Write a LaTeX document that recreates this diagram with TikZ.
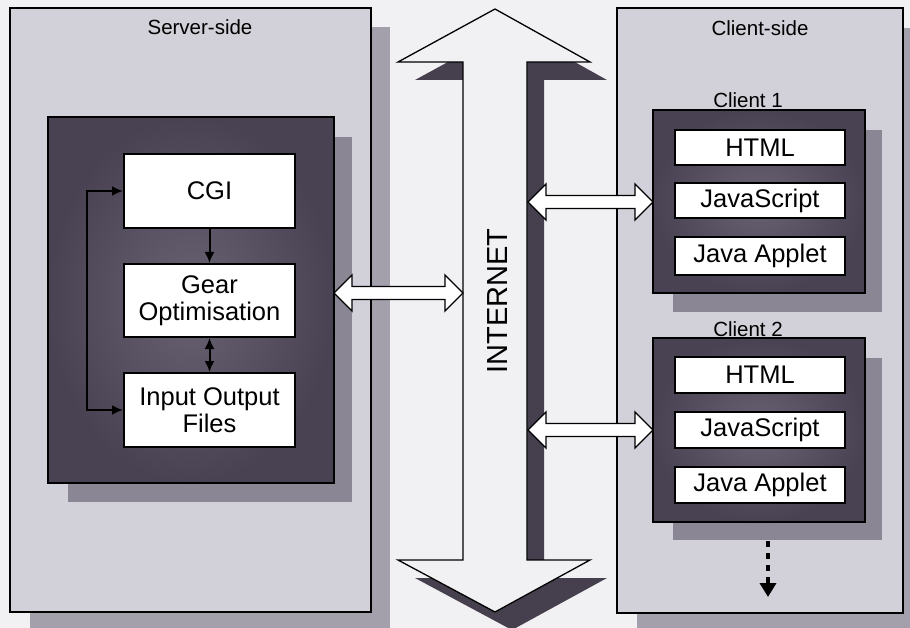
\documentclass[tikz,border=0pt]{standalone}
\usepackage{fontspec}
\setmainfont{Liberation Sans}
\usetikzlibrary{arrows.meta,calc}
\definecolor{bgc}{RGB}{241,241,243}
\definecolor{panelc}{RGB}{210,208,216}
\definecolor{pshadow}{RGB}{163,160,172}
\definecolor{darkc}{RGB}{72,66,82}
\definecolor{darkin}{RGB}{104,98,114}
\definecolor{dshadow}{RGB}{138,134,148}
\definecolor{netshadow}{RGB}{70,64,78}
\newcommand\hollowarrow[2]{%
  \draw[harrow] (#1) -- ($(#1)+(18,-18)$) -- ($(#1)+(18,-6.5)$) -- ($(#2)+(-18,-6.5)$)
    -- ($(#2)+(-18,-18)$) -- (#2) -- ($(#2)+(-18,18)$) -- ($(#2)+(-18,6.5)$)
    -- ($(#1)+(18,6.5)$) -- ($(#1)+(18,18)$) -- cycle;}
\begin{document}
\begin{tikzpicture}[x=1pt,y=-1pt,
  panel/.style={draw=black, line width=1.3pt, fill=panelc, inner sep=0pt},
  darkbox/.style={draw=black, line width=1.8pt, inner color=darkin, outer color=darkc, inner sep=0pt},
  wbox/.style={draw=black, line width=2pt, fill=white, font=\fontsize{25.5}{28.5}\selectfont, align=center, inner sep=0pt},
  title/.style={font=\fontsize{20.5}{24}\selectfont},
  conn/.style={line width=2pt, -{Latex[length=11pt,width=10pt]}},
  harrow/.style={draw=black, line width=1.3pt, fill=white, line join=miter},
  pshad/.style={fill=pshadow},
  dshad/.style={fill=dshadow}]
\useasboundingbox (0,0) rectangle (910,628);
\clip (0,0) rectangle (910,628);
\fill[bgc] (0,0) rectangle (910,628);

% ---------- server side ----------
\fill[pshad] (30,27) rectangle (390,640);
\node[panel, minimum width=361, minimum height=604] (server) at (190.5,310) {};
\node[title] (servertitle) at (200,27) {Server-side};
\fill[dshad] (68,137) rectangle (352,502);
\node[darkbox, minimum width=286, minimum height=366] (srv) at (191,300) {};
\node[wbox, minimum width=171, minimum height=74] (cgi) at (209.5,191) {CGI};
\node[wbox, minimum width=171, minimum height=73] (gear) at (209.5,300.5) {Gear\\[-2pt]Optimisation};
\node[wbox, minimum width=171, minimum height=74] (io) at (209.5,410) {Input Output\\[-2pt]Files};
\draw[conn] (cgi.south) -- (gear.north);
\draw[conn, {Latex[length=11pt,width=10pt]}-{Latex[length=11pt,width=10pt]}] (gear.south) -- (io.north);
\coordinate (loopx) at (87,0);
\coordinate (loopT) at (cgi.west -| loopx);
\coordinate (loopB) at (io.west -| loopx);
\draw[line width=2pt, {Latex[length=11pt,width=10pt]}-{Latex[length=11pt,width=10pt]}]
  (cgi.west) -- (loopT) -- (loopB) -- (io.west);

% ---------- internet ----------
\begin{scope}[shift={(17,18)}]
\fill[netshadow] (495,9) -- (398,62) -- (463,62) -- (463,560) -- (398,560) -- (495,612)
  -- (590,560) -- (527,560) -- (527,62) -- (590,62) -- cycle;
\end{scope}
\draw[harrow, fill=bgc] (495,9) -- (398,62) -- (463,62) -- (463,560) -- (398,560) -- (495,612)
  -- (590,560) -- (527,560) -- (527,62) -- (590,62) -- cycle;
\node[rotate=90, font=\fontsize{29}{30}\selectfont] (internet) at (498,301) {INTERNET};

% ---------- client side ----------
\fill[pshad] (637,28) rectangle (925,640);
\node[panel, minimum width=286, minimum height=605] (client) at (760,310.5) {};
\node[title] (clienttitle) at (760,28) {Client-side};

\node[title] (c1title) at (748,100) {Client 1};
\fill[dshad] (673,130) rectangle (882,312);
\node[darkbox, minimum width=212, minimum height=183] (c1) at (759,201.5) {};
\node[wbox, minimum width=170, minimum height=35] (html1) at (760,147.5) {HTML};
\node[wbox, minimum width=170, minimum height=35] (js1) at (760,200.5) {JavaScript};
\node[wbox, minimum width=170, minimum height=38] (ja1) at (760,256) {Java Applet};

\node[title] (c2title) at (748,329) {Client 2};
\fill[dshad] (673,358) rectangle (882,540);
\node[darkbox, minimum width=212, minimum height=184] (c2) at (759,430) {};
\node[wbox, minimum width=170, minimum height=36] (html2) at (760,375) {HTML};
\node[wbox, minimum width=170, minimum height=36] (js2) at (760,430) {JavaScript};
\node[wbox, minimum width=170, minimum height=36] (ja2) at (760,485) {Java Applet};

\coordinate (dotS) at (768,541);
\coordinate (dotE) at (768,597);
\draw[line width=4pt, dash pattern=on 6pt off 6pt, -{Triangle[length=14pt,width=16pt]}] (dotS) -- (dotE);

% ---------- hollow arrows ----------
\coordinate (srvE) at (334,293);
\coordinate (netL) at (463,293);
\hollowarrow{srvE}{netL}
\coordinate (netR1) at (528,202);
\coordinate (c1W) at (653,202);
\hollowarrow{netR1}{c1W}
\coordinate (netR2) at (528,430);
\coordinate (c2W) at (653,430);
\hollowarrow{netR2}{c2W}
\end{tikzpicture}
\end{document}
